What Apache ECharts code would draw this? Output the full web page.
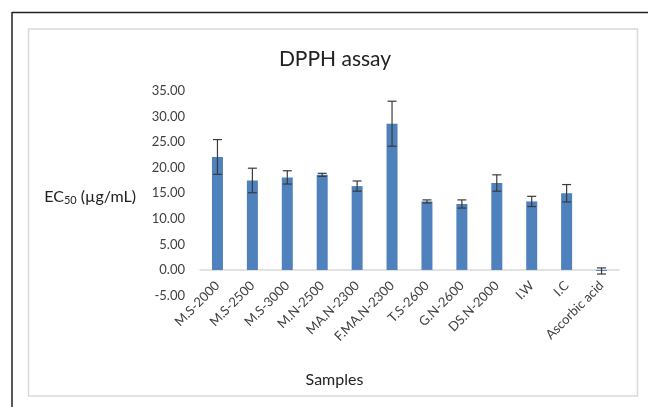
<!DOCTYPE html>
<html>
<head>
<meta charset="utf-8">
<title>DPPH assay</title>
<script src="https://cdn.jsdelivr.net/npm/echarts@6/dist/echarts.min.js"></script>
<style>
  html, body { margin: 0; padding: 0; background: #fff; }
  #chart { width: 648px; height: 407px; }
</style>
</head>
<body>
<div id="chart"></div>
<script>
// values
const samples = ['M.S-2000', 'M.S-2500', 'M.S-3000', 'M.N-2500', 'MA.N-2300', 'F.MA.N-2300',
  'T.S-2600', 'G.N-2600', 'DS.N-2000', 'I.W', 'I.C', 'Ascorbic acid']
const ec50 = [22.1, 17.5, 18.1, 18.6, 16.4, 28.6, 13.4, 12.9, 17.0, 13.4, 15.0, -0.2]
const ec50Err = [3.4, 2.4, 1.3, 0.3, 1.0, 4.4, 0.3, 0.8, 1.6, 1.0, 1.7, 0.6]
const yTicks = [-5, 0, 5, 10, 15, 20, 25, 30, 35]

const FONT = 'Lato'
const TEXT = '#404040'

const chart = echarts.init(document.getElementById('chart'), null, { renderer: 'canvas' })

const errData = ec50.map((v, i) => [i, v, ec50Err[i]])

const renderErr = (params, api) => {
  const i = api.value(0)
  const v = api.value(1)
  const e = api.value(2)
  const top = api.coord([i, v + e])
  const bot = api.coord([i, v - e])
  const cap = 4.5
  const style = { stroke: '#3a3a3a', lineWidth: 1.2, fill: null }
  return {
    type: 'group',
    children: [
      { type: 'line', shape: { x1: top[0], y1: top[1], x2: bot[0], y2: bot[1] }, style },
      { type: 'line', shape: { x1: top[0] - cap, y1: top[1], x2: top[0] + cap, y2: top[1] }, style },
      { type: 'line', shape: { x1: bot[0] - cap, y1: bot[1], x2: bot[0] + cap, y2: bot[1] }, style }
    ]
  }
}

chart.setOption({
  animation: false,
  backgroundColor: '#fff',
  textStyle: { fontFamily: FONT },
  graphic: [
    // outer frame lines
    { type: 'line', silent: true, shape: { x1: 12, y1: 12.5, x2: 648, y2: 12.5 }, style: { stroke: '#222', lineWidth: 1.5 } },
    { type: 'line', silent: true, shape: { x1: 12, y1: 12, x2: 12, y2: 407 }, style: { stroke: '#222', lineWidth: 1.5 } },
    // chart area border
    { type: 'rect', silent: true, z: -1, shape: { x: 28.5, y: 29, width: 609, height: 367 }, style: { fill: '#fff', stroke: '#d9d9d9', lineWidth: 1.5 } }
  ],
  title: {
    text: 'DPPH assay',
    left: 330,
    top: 44,
    textAlign: 'center',
    textStyle: { fontFamily: FONT, fontSize: 21, fontWeight: 'normal', color: '#222' }
  },
  grid: { left: 200, right: 29, top: 91, bottom: 111.5, outerBoundsMode: 'none', containLabel: false },
  xAxis: {
    type: 'category',
    data: samples,
    name: 'Samples',
    nameLocation: 'middle',
    nameGap: 76,
    nameTextStyle: { fontFamily: FONT, fontSize: 16, color: '#222', padding: [0, 150, 0, 0] },
    axisLine: { onZero: true, lineStyle: { color: '#d9d9d9', width: 1.5 } },
    axisTick: { show: false },
    axisLabel: { rotate: 45, margin: -12, interval: 0, fontFamily: FONT, fontSize: 13, color: TEXT }
  },
  yAxis: {
    type: 'value',
    min: yTicks[0],
    max: yTicks[yTicks.length - 1],
    interval: 5,
    name: '{a|EC}{s|50}{a| (µg/mL)}',
    nameLocation: 'middle',
    nameRotate: 0,
    nameGap: 64,
    nameTextStyle: {
      padding: [8, 0, 0, 0],
      rich: {
        a: { fontFamily: FONT, fontSize: 16, color: '#222' },
        s: { fontFamily: FONT, fontSize: 11, color: '#222', padding: [6, 0, 0, 0] }
      }
    },
    axisLine: { show: false },
    axisTick: { show: false },
    splitLine: { show: false },
    axisLabel: {
      margin: 15,
      fontFamily: FONT,
      fontSize: 13,
      color: TEXT,
      formatter: v => v.toFixed(2)
    }
  },
  series: [
    {
      type: 'bar',
      data: ec50,
      barWidth: 11,
      itemStyle: { color: '#4f81bd' }
    },
    {
      type: 'custom',
      data: errData,
      renderItem: renderErr,
      encode: { x: 0, y: 1 },
      z: 3
    }
  ]
})
</script>
</body>
</html>
